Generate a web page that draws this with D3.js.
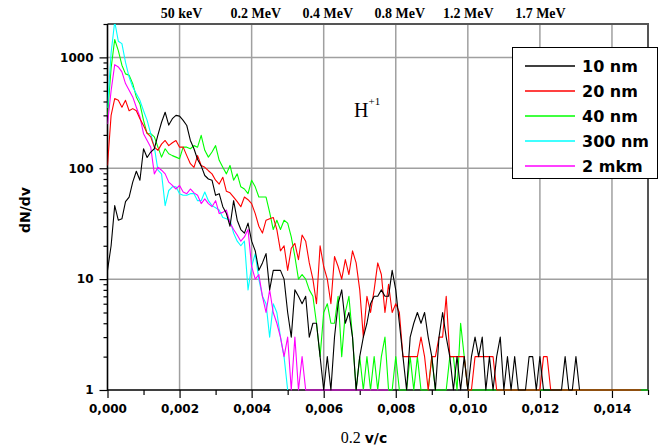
<!DOCTYPE html>
<html>
<head>
<meta charset="utf-8">
<script src="https://cdn.jsdelivr.net/npm/d3@7"></script>
<style>
  html, body { margin: 0; padding: 0; background: #fff; }
  svg { display: block; }
</style>
</head>
<body>
<svg id="chart" width="664" height="446"></svg>
<script>
// Velocity spectra dN/dv of H+1 ions for different target thicknesses.
// Each series is sampled in bins of 0.0001 on the 0.2·v/c axis, starting at 0.
const binWidth = 0.0001;

const seriesNames = ["10 nm", "20 nm", "40 nm", "300 nm", "2 mkm"];
const seriesColors = ["#000000", "#ff0000", "#00ff00", "#00ffff", "#ff00ff"];

const counts10nm = [
  12, 20, 46, 34, 35, 50, 55, 75, 94, 78,
  150, 125, 140, 150, 200, 260, 320, 245, 280, 300,
  295, 270, 243, 178, 150, 120, 105, 86, 80, 78,
  57, 59, 45, 39, 30, 51, 34, 28, 26, 32,
  22, 18, 12, 14, 17, 8, 12, 12, 12, 10,
  5, 3, 8, 7, 6, 7, 3, 4, 4, 2,
  1, 2, 1, 3, 6, 8, 4, 5, 3, 1,
  2, 3, 4, 6, 7, 7, 8, 7, 7, 12,
  8, 4, 2, 1, 3, 4, 5, 4, 5, 3,
  2, 1, 3, 5, 3, 2, 1, 2, 1, 2,
  1, 2, 3, 2, 3, 1, 2, 1, 2, 3,
  1, 2, 1, 2, 1, 1, 1, 2, 2, 1,
  2, 1, 1, 1, 1, 1, 1, 2, 1, 1,
  2, 1
];

const counts20nm = [
  106, 300, 425, 410, 355, 410, 330, 345, 330, 280,
  243, 207, 192, 155, 145, 165, 178, 160, 170, 178,
  155, 155, 130, 110, 102, 130, 106, 102, 95, 89,
  78, 72, 83, 62, 60, 55, 50, 45, 55, 52,
  48, 39, 30, 26, 34, 35, 36, 28, 18, 20,
  12, 19, 21, 15, 25, 22, 14, 10, 6, 20,
  13, 10, 6, 16, 13, 10, 15, 11, 18, 14,
  8, 3, 7, 5, 8, 14, 11, 5, 9, 5,
  6, 5, 2, 2, 2, 2, 2, 3, 2, 1,
  2, 2, 3, 3, 7, 2, 2, 2, 2, 2,
  1, 1, 2, 2, 2, 2, 2, 2, 1, 1,
  1, 1, 1, 1, 1, 1, 1, 1, 1, 1,
  1, 2, 2, 1, 1, 1, 1, 1, 1, 1,
  1, 1, 1, 1, 1, 1, 1, 1, 1, 1,
  1, 1, 1, 1, 1, 1, 1, 1, 1
];

const counts40nm = [
  300, 800, 1450, 1150, 850, 710, 690, 580, 440, 380,
  270, 205, 205, 192, 155, 126, 150, 135, 130, 126,
  122, 155, 155, 150, 160, 155, 198, 145, 126, 140,
  160, 118, 102, 89, 106, 78, 89, 68, 65, 59,
  78, 68, 55, 55, 55, 40, 28, 34, 28, 34,
  32, 24, 16, 10, 11, 10, 8, 7, 4, 2,
  5, 6, 4, 4, 7, 2, 5, 7, 3, 1,
  2, 1, 2, 1, 2, 1, 2, 3, 1, 1,
  2, 1, 1, 1, 2, 1, 2, 1, 1, 1,
  2, 1, 1, 1, 1, 2, 2, 1, 4, 2,
  1, 1, 1, 1, 1, 1, 1, 1, 1, 1,
  1, 1, 1, 1, 1, 1, 1, 1, 1, 1,
  1, 1, 1, 1, 1, 1, 1, 1, 1, 1,
  1, 1, 1, 1, 1, 1, 1, 1, 1, 1,
  1, 1, 1, 1, 1, 1, 1, 1, 1, 1,
  1
];

const counts300nm = [
  350, 1100, 2100, 1400, 1330, 900, 665, 540, 470, 410,
  330, 270, 205, 155, 96, 89, 46, 63, 68, 68,
  59, 57, 57, 59, 59, 51, 51, 61, 51, 46,
  44, 42, 36, 35, 34, 26, 22, 20, 22, 8,
  13, 17, 10, 7, 6, 3, 6, 5, 3, 2,
  1
];

const counts2mkm = [
  250, 500, 860, 820, 740, 580, 505, 440, 355, 290,
  205, 178, 155, 89, 102, 96, 89, 75, 70, 65,
  70, 61, 59, 65, 60, 57, 48, 53, 48, 45,
  51, 39, 40, 42, 32, 28, 25, 22, 24, 28,
  13, 10, 11, 7, 5, 8, 5, 4, 3, 2,
  3, 1, 3, 1, 2, 1, 1, 1, 1, 1,
  1, 1, 1, 1, 1, 1, 1, 1, 1, 1,
  1, 1, 1, 1, 1, 1, 1, 1, 1
];

const seriesCounts = [counts10nm, counts20nm, counts40nm, counts300nm, counts2mkm];
// Painting order (later ones lie on top).
const drawOrder = [2, 3, 4, 1, 0];

const xMajorTicks = [0, 0.002, 0.004, 0.006, 0.008, 0.010, 0.012, 0.014];
const xMinorTicks = [0.001, 0.003, 0.005, 0.007, 0.009, 0.011, 0.013, 0.015];
const yMajorTicks = [1, 10, 100, 1000];
const yMinorTicks = [2, 3, 4, 5, 6, 7, 8, 9, 20, 30, 40, 50, 60, 70, 80, 90,
                     200, 300, 400, 500, 600, 700, 800, 900, 2000];
const xGridValues = [0.002, 0.004, 0.006, 0.008, 0.010, 0.012, 0.014];
const yGridValues = [10, 100, 1000];

// Proton energies marked along the top edge, at their 0.2·v/c positions.
const energyLabels = ["50 keV", "0.2 MeV", "0.4 MeV", "0.8 MeV", "1.2 MeV", "1.7 MeV"];
const energyAt = [0.00204, 0.0041, 0.0061, 0.0081, 0.0100, 0.0120];

// ---------------------------------------------------------------------------
const svg = d3.select("#chart");
const plot = { left: 107.5, right: 648, top: 24, bottom: 390 };

const x = d3.scaleLinear().domain([0, 0.015]).range([plot.left, plot.right]);
const y = d3.scaleLog().domain([1, 2000]).range([plot.bottom, plot.top]);

const commaLocale = d3.formatLocale({ decimal: ",", thousands: " ", grouping: [3], currency: ["", ""] });
const fmtX = commaLocale.format(".3f");

const sansBold = "'DejaVu Sans', Verdana, sans-serif";
const serif = "'Liberation Serif', 'Times New Roman', serif";

// grid
const grid = svg.append("g").attr("stroke", "#a0a0a0").attr("stroke-width", 1.5);
grid.selectAll("line.v").data(xGridValues).join("line")
  .attr("x1", d => x(d)).attr("x2", d => x(d))
  .attr("y1", plot.top).attr("y2", plot.bottom);
grid.selectAll("line.h").data(yGridValues).join("line")
  .attr("x1", plot.left).attr("x2", plot.right)
  .attr("y1", d => y(d)).attr("y2", d => y(d));

// frame: top and right edges
svg.append("path")
  .attr("d", `M${plot.left},${plot.top}H${plot.right}V${plot.bottom}`)
  .attr("fill", "none").attr("stroke", "#555").attr("stroke-width", 2);

// axes
function styleAxis(g) {
  g.select(".domain").remove();
  g.selectAll(".tick line").attr("stroke", "#000").attr("stroke-width", 1.2);
  g.selectAll(".tick text").attr("fill", "#000")
    .attr("font-family", sansBold).attr("font-weight", "bold").attr("font-size", 12);
}

svg.append("g").attr("transform", `translate(0,${plot.bottom})`)
  .call(d3.axisBottom(x).tickValues(xMajorTicks).tickFormat(fmtX).tickSize(8).tickPadding(6.5))
  .call(styleAxis);
svg.append("g").attr("transform", `translate(0,${plot.bottom})`)
  .call(d3.axisBottom(x).tickValues(xMinorTicks).tickFormat("").tickSize(5))
  .call(styleAxis);

svg.append("g").attr("transform", `translate(${plot.left},0)`)
  .call(d3.axisLeft(y).tickValues(yMajorTicks).tickFormat(d3.format("d")).tickSize(8).tickPadding(6))
  .call(styleAxis);
svg.append("g").attr("transform", `translate(${plot.left},0)`)
  .call(d3.axisLeft(y).tickValues(yMinorTicks).tickFormat("").tickSize(4))
  .call(styleAxis);

svg.append("g").attr("transform", `translate(0,${plot.top})`)
  .call(d3.axisTop(x).tickValues(energyAt).tickFormat((d, i) => energyLabels[i]).tickSize(0).tickPadding(6))
  .call(g => {
    g.select(".domain").remove();
    g.selectAll(".tick text").attr("fill", "#000")
      .attr("font-family", serif).attr("font-weight", "bold").attr("font-size", 14);
  });

// left and bottom axis lines
svg.append("path")
  .attr("d", `M${plot.left},${plot.top}V${plot.bottom}H${plot.right}`)
  .attr("fill", "none").attr("stroke", "#000").attr("stroke-width", 1.6);

// data
svg.append("clipPath").attr("id", "plot-clip")
  .append("rect")
  .attr("x", plot.left).attr("y", plot.top)
  .attr("width", plot.right - plot.left).attr("height", plot.bottom - plot.top + 2);

const line = d3.line()
  .x((d, i) => x(i * binWidth))
  .y(d => y(Math.max(1, d)));

svg.append("g").attr("clip-path", "url(#plot-clip)")
  .selectAll("path").data(drawOrder).join("path")
  .attr("d", k => line(seriesCounts[k]))
  .attr("fill", "none")
  .attr("stroke", k => seriesColors[k])
  .attr("stroke-width", 1.1)
  .attr("stroke-linejoin", "round");

// ion label
const ion = svg.append("text")
  .attr("x", 354).attr("y", 117)
  .attr("font-family", serif).attr("font-size", 20).attr("fill", "#000")
  .text("H");
ion.append("tspan").attr("dy", -12).attr("font-size", 11).text("+1");

// legend
const legend = svg.append("g");
legend.append("rect")
  .attr("x", 512.5).attr("y", 47.5).attr("width", 145).attr("height", 131)
  .attr("fill", "#fff").attr("stroke", "#000").attr("stroke-width", 1);
const items = legend.selectAll("g.item").data(seriesNames).join("g")
  .attr("transform", (d, i) => `translate(0,${66 + i * 25})`);
items.append("line")
  .attr("x1", 525).attr("x2", 575).attr("y1", 0).attr("y2", 0)
  .attr("stroke", (d, i) => seriesColors[i]).attr("stroke-width", 1.6);
items.append("text")
  .attr("x", 582).attr("y", 6)
  .attr("font-family", sansBold).attr("font-weight", "bold").attr("font-size", 16)
  .attr("fill", "#000")
  .text(d => d);

// axis titles
const xTitle = svg.append("text")
  .attr("x", 364).attr("y", 443).attr("text-anchor", "middle").attr("fill", "#000");
xTitle.append("tspan").attr("font-family", serif).attr("font-size", 16).text("0.2 ");
xTitle.append("tspan").attr("font-family", sansBold).attr("font-weight", "bold").attr("font-size", 14).text("v/c");

svg.append("text")
  .attr("transform", "translate(25,210) rotate(-90)")
  .attr("text-anchor", "middle").attr("dy", "0.35em")
  .attr("font-family", sansBold).attr("font-weight", "bold").attr("font-size", 14)
  .attr("fill", "#000")
  .text("dN/dv");
</script>
</body>
</html>
